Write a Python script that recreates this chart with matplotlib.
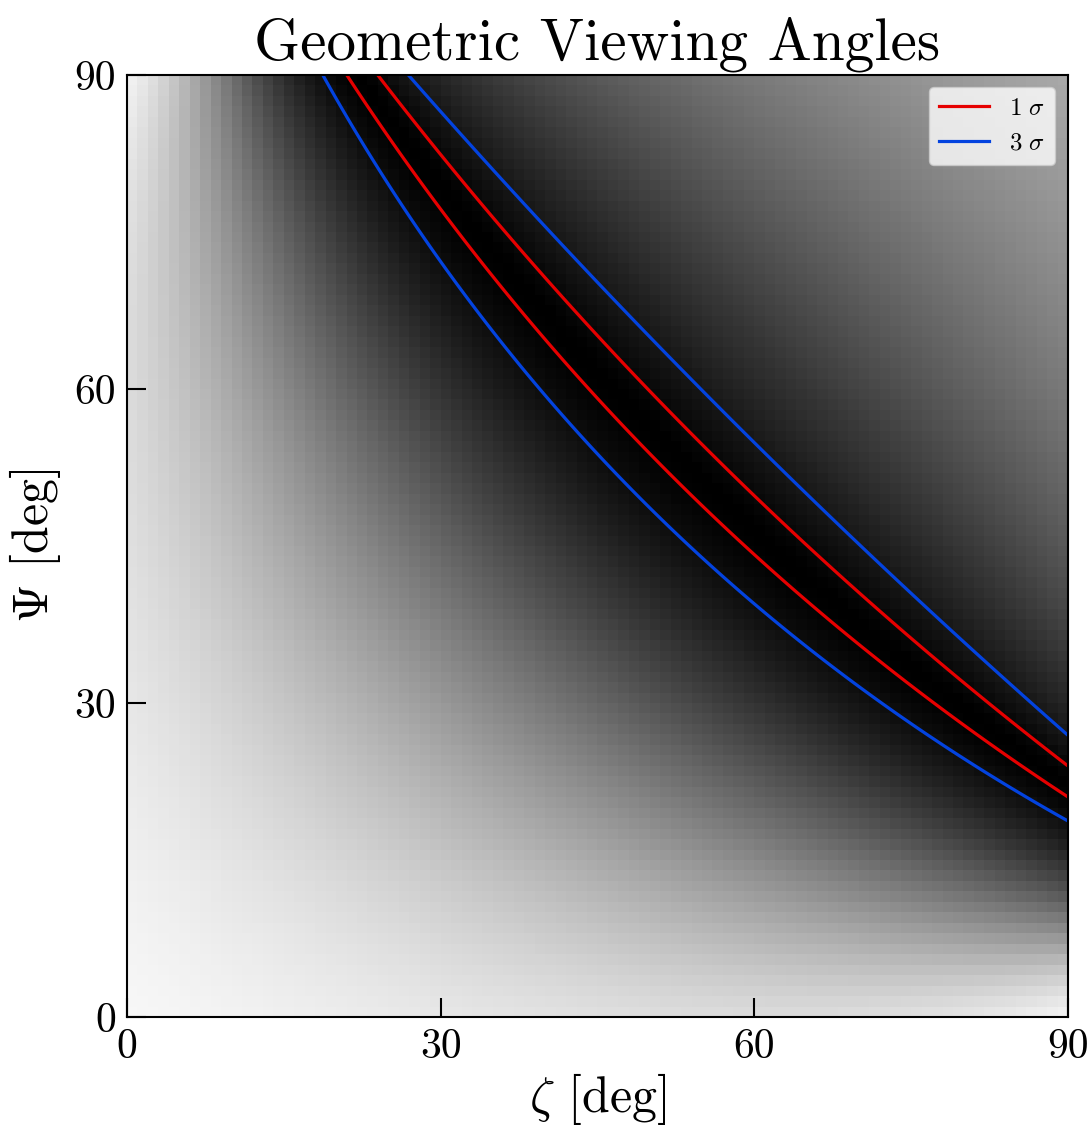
import numpy as np
import matplotlib
matplotlib.use('Agg')
import matplotlib.pyplot as plt
from matplotlib.lines import Line2D

plt.rcParams['font.family'] = 'serif'
plt.rcParams['font.serif'] = ['cmr10']
plt.rcParams['mathtext.fontset'] = 'cm'
plt.rcParams['axes.unicode_minus'] = False

# grid of the map, 1 degree cells
zeta_edges = np.arange(0, 91, 1)
psi_edges = np.arange(0, 91, 1)

# valley, in s = zeta+psi and t = zeta-psi
band_center_sum = 106.75   # zeta+psi of valley centre on the diagonal
band_bend = 0.00125        # rise of zeta+psi per (zeta-psi)^2
sigma_sum = 2.95           # 1 sigma half width (in zeta+psi) on the diagonal
sigma_taper = 9.07e-5      # narrowing of the band towards the edges
sigma_levels = [1.0, 2.75]  # 1 sigma and 3 sigma contours

# grey stretch of the map on both sides of the valley
inner_scale, inner_power = 16.8, 1.6
outer_scale, outer_power = 23.0, 1.1

RED = '#e60000'
BLUE = '#0343df'


def chi(zeta, psi):
    s = zeta + psi
    t = zeta - psi
    centre = band_center_sum + band_bend * t**2
    width = sigma_sum * (1 - sigma_taper * t**2)
    return (s - centre) / width


def grey(c):
    g_in = 1 - np.exp(-(np.abs(c) / inner_scale)**inner_power)
    g_out = 1 - np.exp(-(np.abs(c) / outer_scale)**outer_power)
    return np.where(c < 0, g_in, g_out)


zc = 0.5 * (zeta_edges[1:] + zeta_edges[:-1])
pc = 0.5 * (psi_edges[1:] + psi_edges[:-1])
Zc, Pc = np.meshgrid(zc, pc)
img = grey(chi(Zc, Pc))

zf = np.linspace(0, 90, 901)
Zf, Pf = np.meshgrid(zf, zf)
chi_fine = chi(Zf, Pf)

fig = plt.figure(figsize=(10.91, 11.31), dpi=100)
ax = fig.add_axes([0.1164, 0.1008, 0.8625, 0.8329])

ax.pcolormesh(zeta_edges, psi_edges, img, cmap='gray', vmin=0, vmax=1, shading='flat')

lv = [-sigma_levels[1], -sigma_levels[0], sigma_levels[0], sigma_levels[1]]
ax.contour(Zf, Pf, chi_fine, levels=lv, colors=[BLUE, RED, RED, BLUE], linewidths=2.3)

ax.set_xlim(0, 90)
ax.set_ylim(0, 90)
ax.set_xticks([0, 30, 60, 90])
ax.set_yticks([0, 30, 60, 90])
ax.tick_params(direction='in', length=14, width=1.5, labelsize=30, pad=8)
for sp in ax.spines.values():
    sp.set_linewidth(1.5)

ax.set_xlabel(r'$\zeta$ [deg]', fontsize=36, labelpad=4)
ax.set_ylabel(r'$\Psi$ [deg]', fontsize=36, labelpad=8)
ax.set_title('Geometric Viewing Angles', fontsize=42.5, pad=11)

handles = [Line2D([], [], color=RED, lw=2.3, label=r'$1\ \sigma$'),
           Line2D([], [], color=BLUE, lw=2.3, label=r'$3\ \sigma$')]
ax.legend(handles=handles, loc='upper right', fontsize=18)

fig.savefig('out.png', dpi=100)
